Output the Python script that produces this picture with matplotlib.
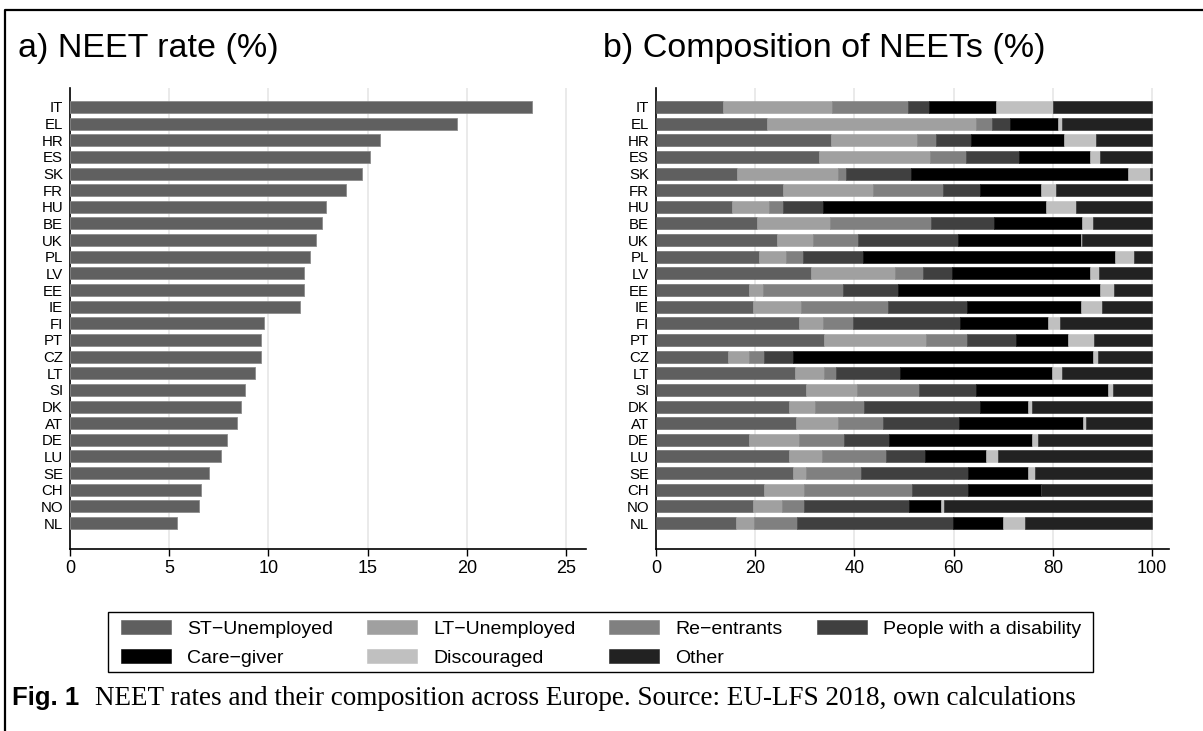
import matplotlib.pyplot as plt
import numpy as np

plt.rcParams['font.family'] = ['Liberation Sans', 'DejaVu Sans']

countries = ['IT', 'EL', 'HR', 'ES', 'SK', 'FR', 'HU', 'BE', 'UK', 'PL', 'LV', 'EE', 'IE',
             'FI', 'PT', 'CZ', 'LT', 'SI', 'DK', 'AT', 'DE', 'LU', 'SE', 'CH', 'NO', 'NL']
neet_rate = [23.3, 19.5, 15.6, 15.1, 14.7, 13.9, 12.9, 12.7, 12.4, 12.1, 11.8, 11.8, 11.6,
             9.8, 9.6, 9.6, 9.3, 8.8, 8.6, 8.4, 7.9, 7.6, 7.0, 6.6, 6.5, 5.4]

categories = ['ST\u2212Unemployed', 'LT\u2212Unemployed', 'Re\u2212entrants',
              'People with a disability', 'Care\u2212giver', 'Discouraged', 'Other']
colors = ['#5f5f5f', '#a0a0a0', '#808080', '#404040', '#000000', '#c0c0c0', '#222222']

st_unemployed = [13.5, 22.4, 35.2, 32.8, 16.4, 25.6, 15.3, 20.3, 24.4, 20.8, 31.2, 18.8, 19.5,
                 28.9, 33.9, 14.5, 28.0, 30.2, 26.8, 28.3, 18.8, 26.8, 27.7, 21.8, 19.5, 16.2]
lt_unemployed = [22.0, 42.2, 17.4, 22.4, 20.3, 18.1, 7.4, 14.7, 7.2, 5.5, 17.0, 2.7, 9.8,
                 4.8, 20.6, 4.3, 5.9, 10.4, 5.3, 8.4, 10.1, 6.6, 2.6, 8.1, 5.9, 3.5]
re_entrants = [15.2, 3.1, 3.8, 7.3, 1.7, 14.2, 2.9, 20.5, 9.1, 3.3, 5.6, 16.1, 17.5,
               6.1, 8.2, 2.9, 2.4, 12.4, 9.8, 9.1, 8.9, 13.0, 11.0, 21.8, 4.5, 8.8]
disability = [4.3, 3.7, 7.1, 10.7, 13.0, 7.5, 8.0, 12.7, 20.1, 12.1, 5.8, 11.1, 15.9,
              21.4, 9.9, 6.0, 12.9, 11.6, 23.4, 15.2, 9.2, 7.9, 21.5, 11.2, 21.2, 31.3]
care_giver = [13.5, 9.6, 18.7, 14.2, 43.7, 12.2, 45.0, 17.6, 24.8, 50.8, 27.8, 40.7, 22.9,
              17.9, 10.5, 60.4, 30.6, 26.5, 9.7, 25.1, 28.7, 12.3, 12.2, 14.8, 6.3, 10.1]
discouraged = [11.5, 0.9, 6.5, 2.0, 4.4, 3.0, 6.1, 2.2, 0.3, 3.9, 1.8, 2.9, 4.3,
               2.3, 5.1, 0.9, 2.0, 1.0, 0.7, 0.5, 1.4, 2.3, 1.4, 0.0, 0.7, 4.4]
other = [20.0, 18.1, 11.3, 10.6, 0.5, 19.4, 15.3, 12.0, 14.1, 3.6, 10.8, 7.7, 10.1,
         18.6, 11.8, 11.0, 18.2, 7.9, 24.3, 13.4, 22.9, 31.1, 23.6, 22.3, 41.9, 25.7]

composition = [st_unemployed, lt_unemployed, re_entrants, disability,
               care_giver, discouraged, other]

fig = plt.figure(figsize=(12.03, 7.31), dpi=100)
ax1 = fig.add_axes([0.0582, 0.249, 0.4289, 0.6306])
ax2 = fig.add_axes([0.5453, 0.249, 0.4264, 0.6306])

y = np.arange(len(countries))

# panel a
ax1.barh(y, neet_rate, height=0.72, color='#606060', edgecolor='#8c8c8c', linewidth=0.6, zorder=3)
ax1.set_xlim(0, 26)
ax1.set_xticks([0, 5, 10, 15, 20, 25])

# panel b
left = np.zeros(len(countries))
handles = []
for vals, name, col in zip(composition, categories, colors):
    b = ax2.barh(y, vals, left=left, height=0.72, color=col, edgecolor=col,
                 linewidth=0.4, label=name, zorder=3)
    handles.append(b)
    left += np.array(vals)
ax2.set_xlim(0, 103.4)
ax2.set_xticks([0, 20, 40, 60, 80, 100])

for ax in (ax1, ax2):
    ax.set_ylim(26.56, -1.14)
    ax.set_yticks(y)
    ax.set_yticklabels(countries, fontsize=10.8)
    ax.tick_params(axis='y', length=0, pad=5)
    ax.tick_params(axis='x', length=5, width=1, labelsize=13, pad=3)
    ax.grid(axis='x', color='#eaeaea', linewidth=1.4, zorder=0)
    ax.spines['top'].set_visible(False)
    ax.spines['right'].set_visible(False)
    ax.spines['left'].set_linewidth(1.2)
    ax.spines['bottom'].set_linewidth(1.2)

fig.text(0.015, 0.934, 'a) NEET rate (%)', fontsize=24.5, va='center', ha='left')
fig.text(0.501, 0.934, 'b) Composition of NEETs (%)', fontsize=24.5, va='center', ha='left')

# legend, drawn row by row like the original
order = [0, 4, 1, 5, 2, 6, 3]
leg = fig.legend([handles[i] for i in order], [categories[i] for i in order],
                 ncol=4, loc='center', bbox_to_anchor=(0.4995, 0.1197),
                 fontsize=14, frameon=False,
                 handlelength=2.57, handleheight=0.72, handletextpad=0.82,
                 columnspacing=1.75, labelspacing=0.55, borderpad=0.2)
fig.add_artist(plt.Rectangle((108 / 1203, 1 - 672 / 731), 985 / 1203, 60 / 731,
                             transform=fig.transFigure, fill=False,
                             edgecolor='black', linewidth=1.0))

# caption
fig.text(0.010, 0.0445, 'Fig. 1', fontsize=18.5, fontweight='bold', va='center', ha='left')
fig.text(0.079, 0.0445, 'NEET rates and their composition across Europe. Source: EU-LFS 2018, own calculations',
         fontsize=19.5, family=['Liberation Serif'], va='center', ha='left')

# page frame
fig.add_artist(plt.Line2D([0.0045, 0.0045, 1.0], [0.0, 0.986, 0.986],
                          transform=fig.transFigure, color='black', linewidth=1.6))

fig.savefig('out.png', dpi=100)
